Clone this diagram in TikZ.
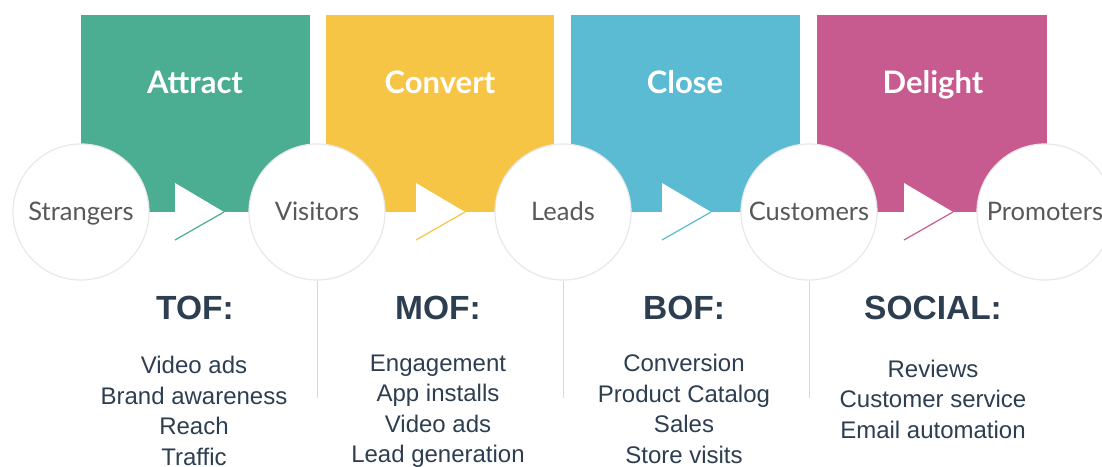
\documentclass[tikz,border=0pt]{standalone}
\usepackage{fontspec}
\setmainfont{Liberation Sans}
\newfontfamily\latofont{Lato}
\usetikzlibrary{calc}

\definecolor{attractcol}{RGB}{75,173,145}
\definecolor{convertcol}{RGB}{246,197,70}
\definecolor{closecol}{RGB}{90,187,211}
\definecolor{delightcol}{RGB}{199,91,144}
\definecolor{textcol}{RGB}{45,62,80}
\definecolor{labelcol}{RGB}{88,88,88}

\tikzset{
	stage/.style={circle, draw=black!9, line width=1.2pt, fill=white, minimum size=136pt, inner sep=0pt, text height=16pt, text depth=0pt, text=labelcol, font=\latofont\fontsize{25.5}{25.5}\selectfont},
	header/.style={anchor=base, text=white, font=\latofont\bfseries\fontsize{31}{31}\selectfont},
	funnel/.style={text=textcol, font=\bfseries\fontsize{33.5}{33.5}\selectfont},
	items/.style={text=textcol, align=center, font=\fontsize{24}{30.5}\selectfont},
	divider/.style={line width=0.8pt, color=black!15}
}
\def\chevron(#1,#2)#3{\fill[white] (#1,#2) -- (#1,#2+29) -- (#1+49,#2+29) -- cycle;
	\draw[line width=1.2pt, color=#3] (#1,#2+57) -- (#1+49,#2+29);}

\begin{document}
\begin{tikzpicture}[x=1pt, y=-1pt]
			%%%%% START %%%%%
			\useasboundingbox (0,0) rectangle (1102,466);
			
			\fill[attractcol] (81, 15) rectangle (310, 212);
			\fill[convertcol] (326, 15) rectangle (554, 212);
			\fill[closecol] (571, 15) rectangle (800, 212);
			\fill[delightcol] (817, 15) rectangle (1047, 212);
			
			\node[header] (attract) at (195, 93) {Attract};
			\node[header] (convert) at (440, 93) {Convert};
			\node[header] (close) at (685, 93) {Close};
			\node[header] (delight) at (933, 93) {Delight};
			
			\chevron(175,183){attractcol}
			\chevron(416,183){convertcol}
			\chevron(662,183){closecol}
			\chevron(904,183){delightcol}
			
			\node[stage] (strangers) at (81, 212) {Strangers};
			\node[stage] (visitors) at (317, 212) {Visitors};
			\node[stage] (leads) at (563, 212) {Leads};
			\node[stage] (customers) at (809, 212) {Customers};
			\node[stage] (promoters) at (1045, 212) {Promoters};
			
			\draw[divider] (visitors.south) -- ++(0, 117);
			\draw[divider] (leads.south) -- ++(0, 117);
			\draw[divider] (customers.south) -- ++(0, 117);
			
			\node[funnel] (tof) at (195, 308) {TOF:};
			\node[funnel] (mof) at (438, 308) {MOF:};
			\node[funnel] (bof) at (684, 308) {BOF:};
			\node[funnel] (social) at (933, 308) {SOCIAL:};
			
			\node[items] (tofitems) at (194, 411) {Video ads\\Brand awareness\\Reach\\Traffic};
			\node[items] (mofitems) at (438, 411) {Engagement\\App installs\\Video ads\\Lead generation};
			\node[items] (bofitems) at (684, 409) {Conversion\\Product Catalog\\Sales\\Store visits};
			\node[items] (socialitems) at (933, 399) {Reviews\\Customer service\\Email automation};
			
			%%%%% END %%%%%
\end{tikzpicture}
\end{document}
